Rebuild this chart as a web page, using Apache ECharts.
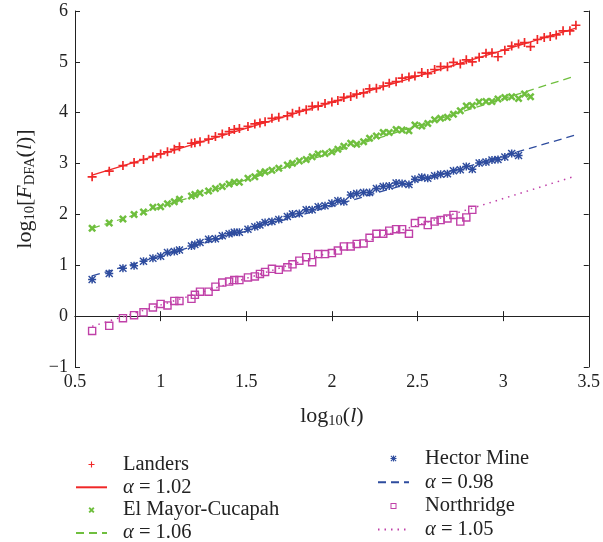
<!DOCTYPE html>
<html>
<head>
<meta charset="utf-8">
<script src="https://cdn.jsdelivr.net/npm/echarts@6/dist/echarts.min.js"></script>
<style>html,body{margin:0;padding:0;background:#fff}#c{width:603px;height:542px}</style>
</head>
<body>
<div id="c"></div>
<script>
// log10(l) positions of the points
const xs = [0.60,0.70,0.78,0.845,0.90,0.955,1.00,1.04,1.08,1.11,1.18,1.20,1.23,1.28,1.32,1.36,1.40,1.43,1.46,1.51,1.55,1.58,1.61,1.65,1.69,1.74,1.77,1.81,1.85,1.885,1.92,1.96,2.00,2.035,2.07,2.11,2.145,2.185,2.22,2.26,2.30,2.335,2.375,2.41,2.45,2.485,2.525,2.56,2.60,2.635,2.675,2.71,2.75,2.785,2.82,2.86,2.90,2.935,2.97,3.01,3.05,3.09,3.125,3.16,3.20,3.24,3.275,3.31,3.35,3.39,3.425];

const landers = [2.74,2.85,2.96,3.02,3.08,3.135,3.19,3.23,3.28,3.33,3.40,3.41,3.43,3.48,3.53,3.58,3.63,3.67,3.69,3.73,3.78,3.80,3.82,3.89,3.91,3.94,3.99,4.03,4.06,4.125,4.13,4.18,4.21,4.24,4.30,4.32,4.365,4.39,4.47,4.48,4.525,4.58,4.61,4.68,4.70,4.72,4.79,4.77,4.85,4.905,4.905,4.99,4.96,5.04,5.00,5.09,5.17,5.18,5.10,5.23,5.31,5.35,5.38,5.30,5.44,5.48,5.50,5.53,5.61,5.61,5.72];

const elMayor = [1.73,1.83,1.91,2.00,2.05,2.14,2.15,2.21,2.25,2.30,2.36,2.39,2.42,2.46,2.51,2.55,2.60,2.635,2.635,2.71,2.74,2.81,2.84,2.87,2.91,2.97,3.005,3.05,3.08,3.135,3.19,3.20,3.23,3.28,3.34,3.40,3.38,3.43,3.50,3.54,3.61,3.61,3.67,3.66,3.645,3.76,3.74,3.79,3.86,3.89,3.91,3.97,4.04,4.13,4.14,4.21,4.22,4.22,4.27,4.30,4.315,4.28,4.37,4.315];

const hectorMine = [0.72,0.84,0.94,0.99,1.08,1.14,1.18,1.25,1.27,1.30,1.38,1.41,1.45,1.51,1.52,1.58,1.62,1.65,1.65,1.71,1.76,1.79,1.84,1.86,1.90,1.96,2.01,2.02,2.09,2.09,2.15,2.17,2.22,2.27,2.25,2.38,2.41,2.43,2.43,2.51,2.55,2.56,2.62,2.61,2.59,2.69,2.73,2.71,2.76,2.79,2.80,2.86,2.88,2.94,2.89,3.01,3.03,3.07,3.08,3.13,3.20,3.16];

const northridge = [-0.29,-0.19,-0.04,0.02,0.075,0.17,0.24,0.21,0.30,0.30,0.34,0.42,0.48,0.48,0.58,0.66,0.68,0.71,0.71,0.76,0.78,0.83,0.87,0.93,0.91,0.96,1.02,1.09,1.16,1.06,1.22,1.22,1.24,1.29,1.37,1.37,1.42,1.43,1.54,1.62,1.62,1.68,1.71,1.71,1.62,1.83,1.87,1.79,1.86,1.89,1.92,1.99,1.86,1.94,2.09];

// fitted lines (end points)
const landersFit = [[0.6, 2.775], [3.42, 5.66]];
const elMayorFit = [[0.6, 1.727], [3.42, 4.72]];
const hectorFit = [[0.6, 0.79], [3.42, 3.56]];
const northridgeFit = [[0.6, -0.2], [3.40, 2.73]];

const names = ['Landers', 'El Mayor-Cucapah', 'Hector Mine', 'Northridge'];
const alphas = ['α = 1.02', 'α = 1.06', 'α = 0.98', 'α = 1.05'];

const xTicks = {min: 0.5, max: 3.5, interval: 0.5};
const yTicks = {min: -1, max: 6, interval: 1};

const C = {red: '#f02828', green: '#6fbf3e', blue: '#2e4c9e', mag: '#c040a8'};
const FONT = 'Liberation Serif';

const pts = ys => ys.map((y, i) => [xs[i], y]);

const plusPath = 'path://M6.5,0h3v6.5h6.5v3h-6.5v6.5h-3v-6.5h-6.5v-3h6.5z';
const crossPath = 'path://M0,3.5L3.5,0L8,4.5L12.5,0L16,3.5L11.5,8L16,12.5L12.5,16L8,11.5L3.5,16L0,12.5L4.5,8z';
const starPath = 'path://M6.5,0h3v16h-3z M0,6.5h16v3h-16z M0,2L2,0L16,14L14,16z M14,0L16,2L2,16L0,14z';
const boxPath = 'path://M0,0h16v16h-16z M2.6,2.6v10.8h10.8v-10.8z';

const rich = {
  a: {fontFamily: FONT, fontSize: 22, color: '#222', lineHeight: 25, verticalAlign: 'middle'},
  i: {fontFamily: FONT, fontSize: 22, fontStyle: 'italic', color: '#222', lineHeight: 25, verticalAlign: 'middle'},
  s: {fontFamily: FONT, fontSize: 14.5, color: '#222', lineHeight: 13, verticalAlign: 'bottom'}
};

const axisCommon = {
  axisLine: {lineStyle: {color: '#222', width: 1}},
  axisTick: {inside: true, length: 5, lineStyle: {color: '#222'}},
  splitLine: {show: false}
};

const legendText = {
  fontFamily: FONT, fontSize: 20.5, color: '#222', lineHeight: 20, padding: [0, 0, 0, 11],
  rich: {
    g: {fontFamily: FONT, fontSize: 20.5, fontStyle: 'italic', color: '#222', lineHeight: 20},
    t: {fontFamily: FONT, fontSize: 20.5, color: '#222', lineHeight: 20}
  }
};
const legFmt = n => n.startsWith('α') ? '{g|α}{t|' + n.slice(1) + '}' : n;
const hideSym = {opacity: 0};

const option = {
  animation: false,
  backgroundColor: '#fff',
  grid: {left: 75, right: 14, top: 11, bottom: 175},
  xAxis: [
    Object.assign({type: 'value', position: 'bottom', min: xTicks.min, max: xTicks.max, interval: xTicks.interval,
      name: '{a|log}{s|10}{a|(}{i|l}{a|)}', nameLocation: 'middle', nameGap: 37,
      nameTextStyle: {rich: rich},
      axisLabel: {fontFamily: FONT, fontSize: 18, color: '#222', margin: 6}}, axisCommon),
    Object.assign({type: 'value', position: 'top', min: xTicks.min, max: xTicks.max, interval: xTicks.interval,
      axisLabel: {show: false}}, axisCommon)
  ],
  yAxis: [
    Object.assign({type: 'value', position: 'left', min: yTicks.min, max: yTicks.max, interval: yTicks.interval,
      name: '{a|log}{s|10}{a|[}{i|F}{s|DFA}{a|(}{i|l}{a|)]}', nameLocation: 'middle', nameGap: 36,
      nameTextStyle: {rich: rich},
      axisLabel: {fontFamily: FONT, fontSize: 18, color: '#222', margin: 7,
        formatter: v => v < 0 ? '\u2212' + (-v) : String(v)}}, axisCommon),
    Object.assign({type: 'value', position: 'right', min: yTicks.min, max: yTicks.max, interval: yTicks.interval,
      axisLabel: {show: false}}, axisCommon)
  ],
  legend: [
    {orient: 'vertical', left: 75, top: 454, width: 220, height: 130, itemWidth: 31, itemHeight: 6, itemGap: 1.8, padding: 0,
      data: [{name: names[0]}, {name: alphas[0], itemStyle: hideSym}, {name: names[1]}, {name: alphas[1], itemStyle: hideSym}],
      textStyle: legendText, formatter: legFmt},
    {orient: 'vertical', left: 377, top: 448, width: 200, height: 130, itemWidth: 31, itemHeight: 6, itemGap: 2.7, padding: 0,
      data: [{name: names[2]}, {name: alphas[2], itemStyle: hideSym}, {name: names[3]}, {name: alphas[3], itemStyle: hideSym}],
      textStyle: legendText, formatter: legFmt}
  ],
  series: [
    {name: alphas[0], type: 'line', data: landersFit, symbol: 'none', lineStyle: {color: C.red, width: 1.3, type: 'solid'}, itemStyle: {color: C.red}, z: 2},
    {name: alphas[1], type: 'line', data: elMayorFit, symbol: 'none', lineStyle: {color: C.green, width: 1.3, type: [8, 5]}, itemStyle: {color: C.green}, z: 2},
    {name: alphas[2], type: 'line', data: hectorFit, symbol: 'none', lineStyle: {color: C.blue, width: 1.3, type: [8, 5]}, itemStyle: {color: C.blue}, z: 2},
    {name: alphas[3], type: 'line', data: northridgeFit, symbol: 'none', lineStyle: {color: C.mag, width: 1.5, type: [1.5, 5]}, itemStyle: {color: C.mag}, z: 2},
    {name: names[0], type: 'scatter', data: pts(landers), symbol: plusPath, symbolSize: 9, itemStyle: {color: C.red, opacity: 1}, z: 3},
    {name: names[1], type: 'scatter', data: pts(elMayor), symbol: crossPath, symbolSize: 8, itemStyle: {color: C.green, opacity: 1}, z: 3},
    {name: names[2], type: 'scatter', data: pts(hectorMine), symbol: starPath, symbolSize: 8, itemStyle: {color: C.blue, opacity: 1}, z: 3},
    {name: names[3], type: 'scatter', data: pts(northridge), symbol: boxPath, symbolSize: 8.5, itemStyle: {color: C.mag, opacity: 1}, z: 3}
  ]
};

const chart = echarts.init(document.getElementById('c'), null, {renderer: 'canvas'});
chart.setOption(option);
</script>
</body>
</html>
